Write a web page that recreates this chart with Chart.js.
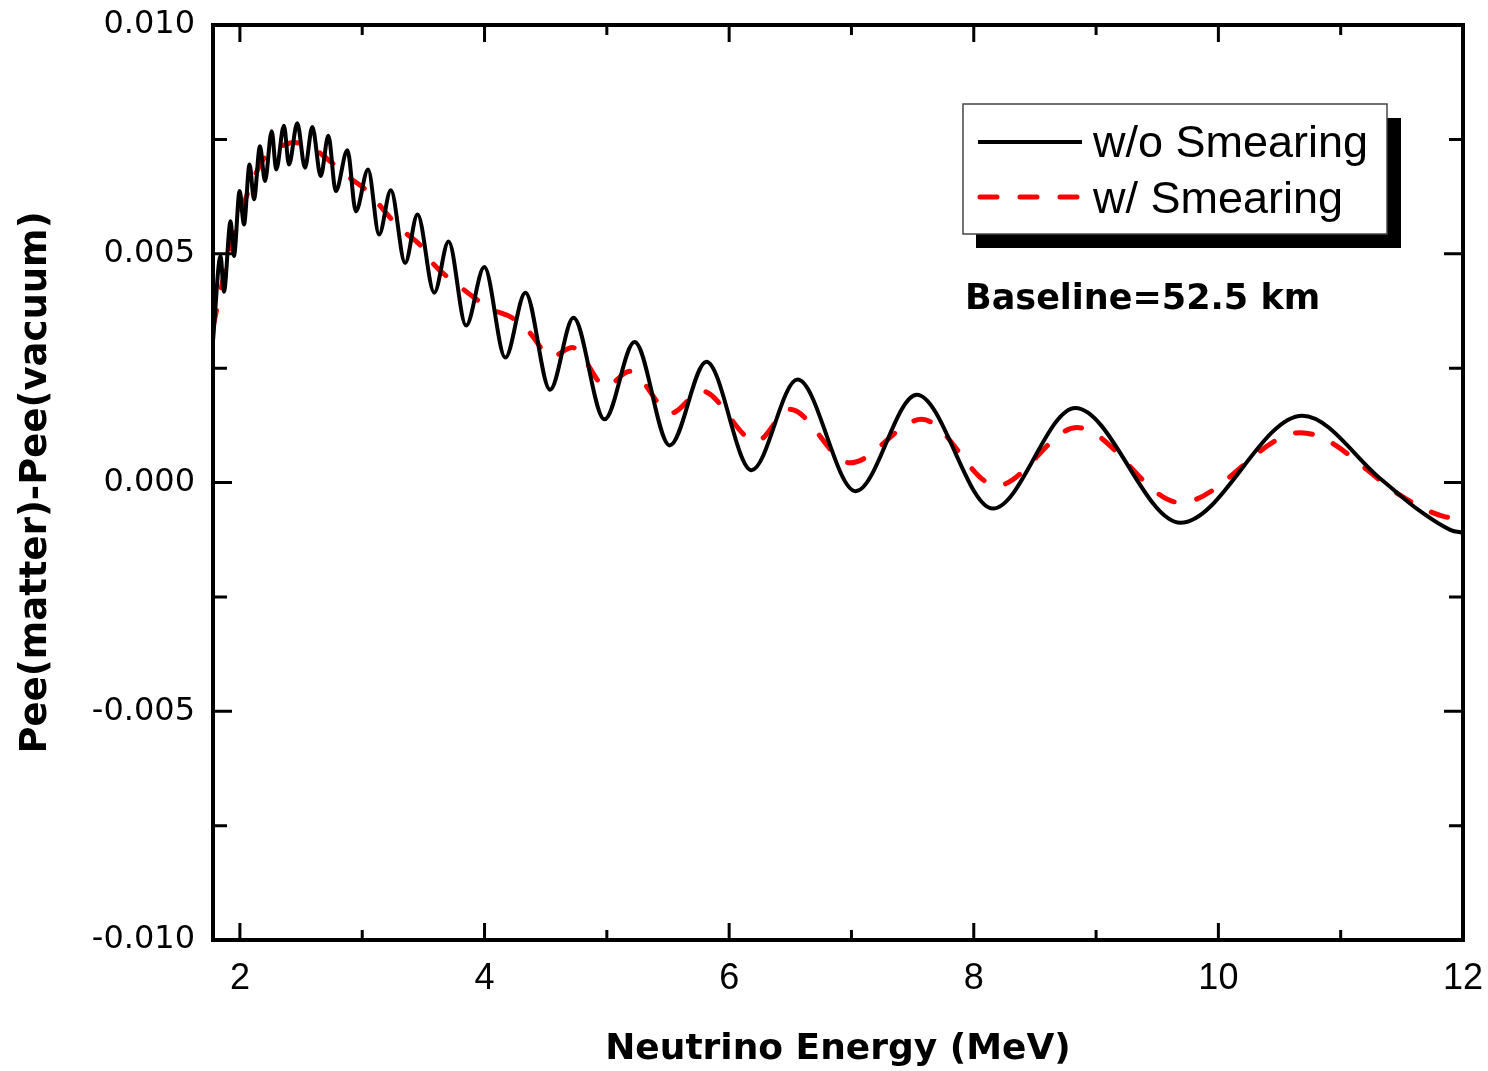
<!DOCTYPE html>
<html>
<head>
<meta charset="utf-8">
<script src="https://cdn.jsdelivr.net/npm/chart.js@4.4.0/dist/chart.umd.min.js"></script>
<style>
  body { margin: 0; background: #fff; }
  canvas { display: block; }
</style>
</head>
<body>
<canvas id="grafik" width="1488" height="1071"></canvas>
<script>
// values (peaks/troughs of each curve)
const energyNoSmear = [1.78, 1.842, 1.869, 1.924, 1.951, 1.998, 2.033, 2.079, 2.115, 2.164, 2.205, 2.260, 2.297,
    2.360, 2.401, 2.469, 2.532, 2.592, 2.661, 2.723, 2.784, 2.879, 2.948, 3.048, 3.138, 3.234, 3.351, 3.452,
    3.589, 3.706, 3.849, 3.998, 4.170, 4.334, 4.536, 4.727, 4.981, 5.227, 5.514, 5.814, 6.183, 6.559, 7.034,
    7.534, 8.156, 8.830, 9.690, 10.687, 11.33, 11.63, 11.9, 12.0];
const peeNoSmear = [0.00310, 0.00495, 0.00417, 0.00571, 0.00495, 0.00637, 0.00564, 0.00695, 0.00619, 0.00735,
    0.00659, 0.00768, 0.00684, 0.00780, 0.00695, 0.00785, 0.00688, 0.00777, 0.00670, 0.00758, 0.00637, 0.00726,
    0.00593, 0.00684, 0.00542, 0.00639, 0.00480, 0.00586, 0.00415, 0.00527, 0.00343, 0.00471, 0.00273, 0.00415,
    0.00203, 0.00360, 0.00138, 0.00307, 0.00081, 0.00264, 0.00027, 0.00225, -0.00019, 0.00192, -0.00057,
    0.00163, -0.00088, 0.00146, 0.00007, -0.00059, -0.00104, -0.00110];

const energySmear = [1.78, 1.894, 1.992, 2.074, 2.210, 2.374, 2.44, 2.590, 2.702, 2.917, 3.029, 3.193, 3.302,
    3.480, 3.572, 3.794, 4.064, 4.22, 4.367, 4.547, 4.719, 4.995, 5.186, 5.527, 5.776, 6.223, 6.496, 6.988,
    7.575, 8.189, 8.844, 9.690, 10.673, 11.5, 11.66, 11.84, 12.0];
const peeSmear = [0.00340, 0.00481, 0.00575, 0.00640, 0.00713, 0.00739, 0.00743, 0.00732, 0.00710, 0.00662,
    0.00640, 0.00590, 0.00557, 0.00517, 0.00481, 0.00429, 0.00378, 0.00361, 0.00328, 0.00275, 0.00295, 0.00210,
    0.00243, 0.00152, 0.00200, 0.00090, 0.00160, 0.00043, 0.00138, -0.00007, 0.00120, -0.00044, 0.00109,
    -0.00030, -0.00055, -0.00074, -0.00080];

const xTicks = [2, 4, 6, 8, 10, 12];
const xMinorTicks = [3, 5, 7, 9, 11];
const yTicks = [-0.01, -0.005, 0, 0.005, 0.01];
const yMinorTicks = [-0.0075, -0.0025, 0.0025, 0.0075];
const seriesLabels = ['w/o Smearing', 'w/ Smearing'];
const baselineText = 'Baseline=52.5 km';

function toPoints(xs, ys) {
    return xs.map((x, i) => ({ x: x, y: ys[i] }));
}

// frame with inward ticks on all four sides
const frameTicks = {
    id: 'frameTicks',
    afterDatasetsDraw(chart) {
        const { ctx, chartArea: a, scales: { x, y } } = chart;
        ctx.save();
        ctx.strokeStyle = '#000';
        ctx.lineWidth = 3;
        ctx.beginPath();
        const xTick = (v, len) => {
            const px = x.getPixelForValue(v);
            ctx.moveTo(px, a.bottom); ctx.lineTo(px, a.bottom - len);
            ctx.moveTo(px, a.top); ctx.lineTo(px, a.top + len);
        };
        const yTick = (v, len) => {
            const py = y.getPixelForValue(v);
            ctx.moveTo(a.left, py); ctx.lineTo(a.left + len, py);
            ctx.moveTo(a.right, py); ctx.lineTo(a.right - len, py);
        };
        xTicks.forEach(v => xTick(v, 17));
        xMinorTicks.forEach(v => xTick(v, 10));
        yTicks.forEach(v => yTick(v, 19));
        yMinorTicks.forEach(v => yTick(v, 14));
        ctx.stroke();
        ctx.lineWidth = 4;
        ctx.strokeRect(a.left, a.top, a.right - a.left, a.bottom - a.top);
        ctx.restore();
    }
};

// shadowed legend box and the baseline note
const boxLegend = {
    id: 'boxLegend',
    afterDraw(chart) {
        const ctx = chart.ctx;
        const sets = chart.data.datasets;
        ctx.save();
        ctx.fillStyle = '#000';
        ctx.fillRect(976, 118, 425, 130);
        ctx.fillStyle = '#fff';
        ctx.fillRect(963, 104, 424, 130);
        ctx.strokeStyle = '#444';
        ctx.lineWidth = 1.5;
        ctx.strokeRect(963, 104, 424, 130);

        const rows = [142, 197];
        sets.forEach((ds, i) => {
            ctx.strokeStyle = ds.borderColor;
            ctx.lineWidth = ds.borderWidth;
            ctx.lineCap = ds.borderCapStyle || 'butt';
            ctx.setLineDash(ds.borderDash || []);
            ctx.beginPath();
            ctx.moveTo(i == 0 ? 978 : 980, rows[i]);
            ctx.lineTo(1082, rows[i]);
            ctx.stroke();
        });
        ctx.setLineDash([]);
        ctx.fillStyle = '#000';
        ctx.font = '45px "Liberation Sans", Arial, sans-serif';
        ctx.textBaseline = 'alphabetic';
        ctx.fillText(seriesLabels[0], 1093, 157);
        ctx.fillText(seriesLabels[1], 1093, 213);

        ctx.font = 'bold 35px "DejaVu Sans", sans-serif';
        ctx.fillText(baselineText, 965, 309);
        ctx.restore();
    }
};

new Chart(document.getElementById('grafik').getContext('2d'), {
    type: 'line',
    data: {
        datasets: [{
            label: seriesLabels[0],
            data: toPoints(energyNoSmear, peeNoSmear),
            borderColor: '#000',
            borderWidth: 4,
            cubicInterpolationMode: 'monotone',
            pointRadius: 0,
            fill: false
        }, {
            label: seriesLabels[1],
            data: toPoints(energySmear, peeSmear),
            borderColor: '#ff0000',
            borderWidth: 5,
            borderDash: [17, 23],
            borderCapStyle: 'round',
            cubicInterpolationMode: 'monotone',
            pointRadius: 0,
            fill: false
        }]
    },
    options: {
        responsive: false,
        animation: false,
        layout: { padding: { left: 0, top: 25, right: 25, bottom: 0 } },
        plugins: {
            legend: { display: false },
            tooltip: { enabled: false }
        },
        scales: {
            x: {
                type: 'linear',
                min: 1.78,
                max: 12,
                afterBuildTicks: s => { s.ticks = xTicks.map(v => ({ value: v })); },
                afterFit: s => { s.height = 131; s.paddingLeft = 0; s.paddingRight = 0; },
                grid: { display: false },
                border: { display: false },
                ticks: {
                    color: '#000',
                    padding: 9,
                    maxRotation: 0,
                    font: { family: '"Liberation Sans", Arial, sans-serif', size: 36 }
                },
                title: {
                    display: true,
                    text: 'Neutrino Energy (MeV)',
                    color: '#000',
                    padding: { top: 0, bottom: 0 },
                    font: { family: '"DejaVu Sans", sans-serif', size: 36, weight: 'bold' }
                }
            },
            y: {
                min: -0.01,
                max: 0.01,
                afterBuildTicks: s => { s.ticks = yTicks.map(v => ({ value: v })); },
                afterFit: s => { s.width = 213; s.paddingTop = 0; s.paddingBottom = 0; },
                grid: { display: false },
                border: { display: false },
                ticks: {
                    color: '#000',
                    padding: 10,
                    font: { family: '"DejaVu Sans", sans-serif', size: 32 },
                    callback: v => Math.abs(v) < 1e-9 ? '0.000' : v.toFixed(3)
                },
                title: {
                    display: true,
                    text: 'Pee(matter)-Pee(vacuum)',
                    color: '#000',
                    padding: { top: 14, bottom: 0 },
                    font: { family: '"DejaVu Sans", sans-serif', size: 37, weight: 'bold' }
                }
            }
        }
    },
    plugins: [frameTicks, boxLegend]
});
</script>
</body>
</html>
